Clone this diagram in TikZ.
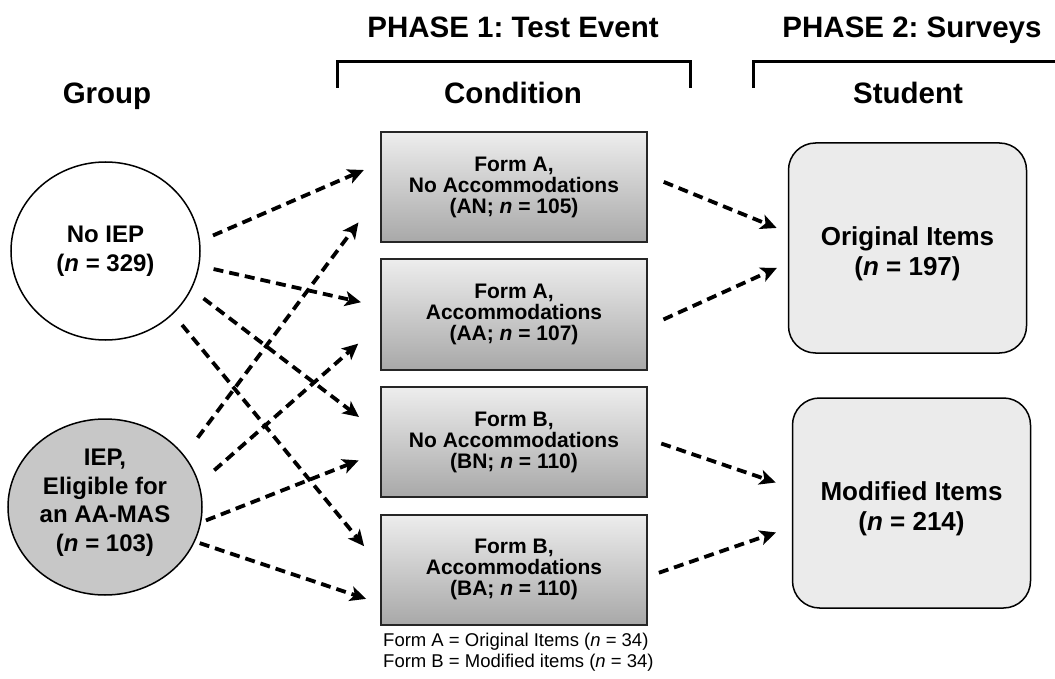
\documentclass[tikz,border=0pt]{standalone}
\usepackage{fontspec}
\setmainfont{Liberation Sans}
\frenchspacing
\usetikzlibrary{positioning,shapes.geometric,arrows.meta}

\tikzset{
  headtext/.style={anchor=base, font=\fontsize{29.5}{30}\selectfont\bfseries},
  groupcircle/.style={ellipse, draw=black, line width=1.5pt, align=center, inner sep=0pt,
    font=\fontsize{24}{29}\selectfont\bfseries},
  formbox/.style={rectangle, draw=black!85, line width=2pt, top color=black!7, bottom color=black!34,
    minimum width=266pt, minimum height=110pt, inner sep=0pt, align=center,
    font=\fontsize{21}{21}\selectfont\bfseries},
  surveybox/.style={rectangle, rounded corners=27pt, draw=black, line width=1.5pt, fill=black!8,
    minimum width=238pt, minimum height=210pt, align=center,
    font=\fontsize{26}{30}\selectfont\bfseries},
  flow/.style={line width=3.8pt, dash pattern=on 10pt off 6pt,
    -{Stealth[length=16pt,width=15pt,inset=4pt]}}
}

\begin{document}
\begin{tikzpicture}[x=1pt, y=-1pt] % pixel-like units, y runs downwards
            \useasboundingbox (0,0) rectangle (1055,679);

            % Column headings
            \node[headtext] (phaseone) at (513,38) {PHASE 1: Test Event};
            \node[headtext] (phasetwo) at (912,38) {PHASE 2: Surveys};
            \node[headtext] (group) at (107,104) {Group};
            \node[headtext] (cond) at (513,104) {Condition};
            \node[headtext] (stud) at (908,104) {Student};

            % Brackets under the phase titles
            \draw[line width=3pt] (337,88) -- (337,62) -- (690,62) -- (690,88);
            \draw[line width=3pt] (753,88) -- (753,62) -- (1058,62);

            % Groups
            \node[groupcircle, fill=white, minimum width=189pt, minimum height=178pt] (noiep) at (105.5,251) {No IEP\\(\textit{n} = 329)};
            \node[groupcircle, fill=black!22, minimum width=194pt, minimum height=176pt, font=\fontsize{24}{28.5}\selectfont\bfseries] (iep) at (105,507) {IEP,\\Eligible for\\an AA-MAS\\(\textit{n} = 103)\rule[-14pt]{0pt}{1pt}};

            % Test conditions
            \node[formbox] (an) at (514,187) {Form A,\\No Accommodations\\(AN; \textit{n} = 105)};
            \node[formbox, below=15.5pt of an] (aa) {Form A,\\Accommodations\\(AA; \textit{n} = 107)};
            \node[formbox, below=15.5pt of aa] (bn) {Form B,\\No Accommodations\\(BN; \textit{n} = 110)};
            \node[formbox, below=15.5pt of bn] (ba) {Form B,\\Accommodations\\(BA; \textit{n} = 110)};

            \node[anchor=west, align=left, inner sep=0pt, font=\fontsize{18.5}{21}\selectfont] (key) at (383,652)
              {Form A = Original Items (\textit{n} = 34)\\Form B = Modified items (\textit{n} = 34)};

            % Student surveys
            \node[surveybox] (orig) at (907.5,248) {\rule{0pt}{30pt}Original Items\\(\textit{n} = 197)};
            \node[surveybox] (modi) at (911.5,503) {\rule{0pt}{30pt}Modified Items\\(\textit{n} = 214)};

            % Group -> condition
            \draw[flow, shorten <=14pt, shorten >=17.6pt] (noiep.6) -- ([yshift=24pt]an.west);
            \draw[flow, shorten <=14.5pt, shorten >=19.5pt] (noiep.-9) -- ([yshift=8pt]aa.west);
            \draw[flow, shorten <=15pt, shorten >=26.4pt] (noiep.-24) -- ([yshift=9pt]bn.west);
            \draw[flow, shorten <=14pt, shorten >=25pt] (noiep.-43) -- ([yshift=4pt]ba.west);

            \draw[flow, shorten <=22pt, shorten >=36pt] (iep.33) -- ([yshift=-6.6pt]an.west);
            \draw[flow, shorten <=20pt, shorten >=29pt] (iep.14) -- ([yshift=-10pt]aa.west);
            \draw[flow, shorten <=5pt, shorten >=23pt] (iep.-9) -- ([yshift=-10pt]bn.west);
            \draw[flow, shorten <=5pt, shorten >=14.6pt] (iep.-21) -- ([yshift=-34pt]ba.west);

            % Condition -> survey
            \draw[flow, shorten <=17pt, shorten >=12pt] ([yshift=11.5pt]an.east) -- ([yshift=15.5pt]orig.west);
            \draw[flow, shorten <=17pt, shorten >=12pt] ([yshift=-12pt]aa.east) -- ([yshift=-15pt]orig.west);
            \draw[flow, shorten <=14pt, shorten >=17pt] ([yshift=3pt]bn.east) -- ([yshift=15pt]modi.west);
            \draw[flow, shorten <=11.5pt, shorten >=16.7pt] ([yshift=-7pt]ba.east) -- ([yshift=-24pt]modi.west);
        \end{tikzpicture}
\end{document}
